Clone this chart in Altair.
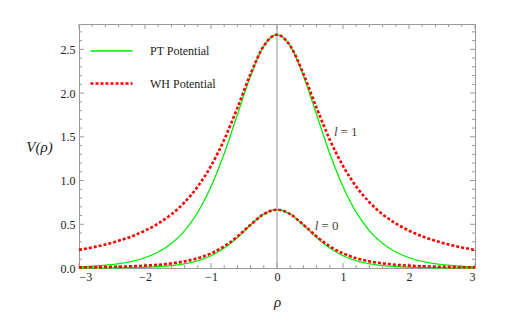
import altair as alt
import pandas as pd

# ---- data (curves are symmetric about rho = 0) ----
rho_half = [0.0, 0.2, 0.4, 0.6, 0.8, 1.0, 1.2, 1.4, 1.6, 1.8, 2.0, 2.2, 2.4, 2.6, 2.8, 3.0]
wh_l1 = [2.667, 2.540, 2.220, 1.831, 1.467, 1.167, 0.932, 0.752, 0.614, 0.509, 0.427, 0.362, 0.311, 0.269, 0.235, 0.207]
wh_l0 = [0.667, 0.616, 0.495, 0.360, 0.248, 0.167, 0.112, 0.076, 0.053, 0.037, 0.027, 0.020, 0.015, 0.011, 0.009, 0.007]
pt_l1 = [2.667, 2.538, 2.197, 1.753, 1.309, 0.931, 0.639, 0.428, 0.282, 0.184, 0.119, 0.077, 0.049, 0.032, 0.020, 0.013]
pt_l0 = [0.667, 0.616, 0.492, 0.349, 0.228, 0.141, 0.084, 0.049, 0.028, 0.016, 0.009, 0.005, 0.003, 0.002, 0.001, 0.001]

series_names = ["PT Potential", "WH Potential"]
x_major = [-3, -2, -1, 0, 1, 2, 3]
y_major = [0.0, 0.5, 1.0, 1.5, 2.0, 2.5]
x_minor = [round(-3 + 0.2 * i, 1) for i in range(31) if i % 5 != 0]
y_minor = [round(0.1 * i, 1) for i in range(28) if i % 5 != 0]

ann_text_l = ["l", "l"]
ann_text_r = ["= 1", "= 0"]
ann_rho = [0.932, 0.641]
ann_v = [1.556, 0.479]

rows = []
for name, l, vals in [("PT Potential", 1, pt_l1), ("PT Potential", 0, pt_l0),
                      ("WH Potential", 1, wh_l1), ("WH Potential", 0, wh_l0)]:
    for r, v in zip(rho_half[::-1], vals[::-1]):
        if r != 0:
            rows.append({"rho": -r, "V": v, "potential": name, "l": l})
    for r, v in zip(rho_half, vals):
        rows.append({"rho": r, "V": v, "potential": name, "l": l})
df = pd.DataFrame(rows)

W, H = 396, 244
XD = [-3, 3]
YD = [0, 2.79]
FONT = "Liberation Serif"
TICK = "#999999"
TXT = "#222222"

xs = alt.Scale(domain=XD, nice=False, zero=False)
ys = alt.Scale(domain=YD, nice=False, zero=False)

base_x = alt.X("rho:Q", scale=xs,
               axis=alt.Axis(values=x_major, format="d", ticks=False, domain=False, grid=False,
                             labelFont=FONT, labelFontSize=12, labelColor=TXT,
                             labelPadding=3, title="ρ", titleFont=FONT, titleFontSize=15,
                             titleFontStyle="italic", titleFontWeight="normal",
                             titleColor=TXT, titleBaseline="middle", titleY=33))
base_y = alt.Y("V:Q", scale=ys,
               axis=alt.Axis(values=y_major, format=".1f", ticks=False, domain=False, grid=False,
                             labelFont=FONT, labelFontSize=12, labelColor=TXT,
                             labelPadding=4, title="V(ρ)", titleFont=FONT, titleFontSize=15,
                             titleFontStyle="italic", titleFontWeight="normal",
                             titleColor=TXT, titleAngle=0, titleAlign="center",
                             titleBaseline="middle", titleX=-40, titleY=122))

zero_df = pd.DataFrame({"rho": [0]})
zero_line = alt.Chart(zero_df).mark_rule(color="#b8b8b8", strokeWidth=1.5).encode(
    x=alt.X("rho:Q", scale=xs))

def xticks(vals, length):
    d = pd.DataFrame({"rho": vals})
    bot = alt.Chart(d).mark_rule(color=TICK, strokeWidth=1).encode(
        x=alt.X("rho:Q", scale=xs), y=alt.value(H), y2=alt.value(H - length))
    top = alt.Chart(d).mark_rule(color=TICK, strokeWidth=1).encode(
        x=alt.X("rho:Q", scale=xs), y=alt.value(0), y2=alt.value(length))
    return [bot, top]

def yticks(vals, length):
    d = pd.DataFrame({"V": vals})
    left = alt.Chart(d).mark_rule(color=TICK, strokeWidth=1).encode(
        y=alt.Y("V:Q", scale=ys), x=alt.value(0), x2=alt.value(length))
    right = alt.Chart(d).mark_rule(color=TICK, strokeWidth=1).encode(
        y=alt.Y("V:Q", scale=ys), x=alt.value(W), x2=alt.value(W - length))
    return [left, right]

tick_layers = xticks(x_major, 5) + xticks(x_minor, 3) + yticks(y_major, 5) + yticks(y_minor, 3)

leg = alt.Legend(title=None, orient="none", legendX=10, legendY=5, padding=0,
                 symbolType="stroke", symbolSize=1764, labelFont=FONT, labelFontSize=12,
                 labelColor=TXT, labelOffset=16, rowPadding=4)

lines = alt.Chart(df).mark_line(interpolate="monotone").encode(
    x=base_x,
    y=base_y,
    color=alt.Color("potential:N",
                    scale=alt.Scale(domain=series_names, range=["#00ee00", "#ff0000"]),
                    legend=leg),
    strokeDash=alt.StrokeDash("potential:N",
                              scale=alt.Scale(domain=series_names, range=[[1, 0], [3, 2]]),
                              legend=leg),
    strokeWidth=alt.StrokeWidth("potential:N",
                                scale=alt.Scale(domain=series_names, range=[1.3, 2.6]),
                                legend=leg),
    detail="l:N",
    order="rho:Q",
)

ann_df = pd.DataFrame({"rho": ann_rho, "V": ann_v, "tl": ann_text_l, "tr": ann_text_r})
ann_l = alt.Chart(ann_df).mark_text(font=FONT, fontSize=13, fontStyle="italic", color="#444444",
                                    align="right", baseline="middle", dx=-1).encode(
    x=alt.X("rho:Q", scale=xs), y=alt.Y("V:Q", scale=ys), text="tl:N")
ann_r = alt.Chart(ann_df).mark_text(font=FONT, fontSize=13, color="#444444",
                                    align="left", baseline="middle", dx=2).encode(
    x=alt.X("rho:Q", scale=xs), y=alt.Y("V:Q", scale=ys), text="tr:N")

chart = alt.layer(zero_line, *tick_layers, lines, ann_l, ann_r).properties(
    width=W, height=H,
    background="white",
    autosize=alt.AutoSizeParams(type="none"),
    padding={"left": 71, "top": 16, "right": 30, "bottom": 44},
).configure_view(stroke=TICK, strokeWidth=1)

chart.save("out.html", embed_options={"renderer": "svg", "actions": False})
